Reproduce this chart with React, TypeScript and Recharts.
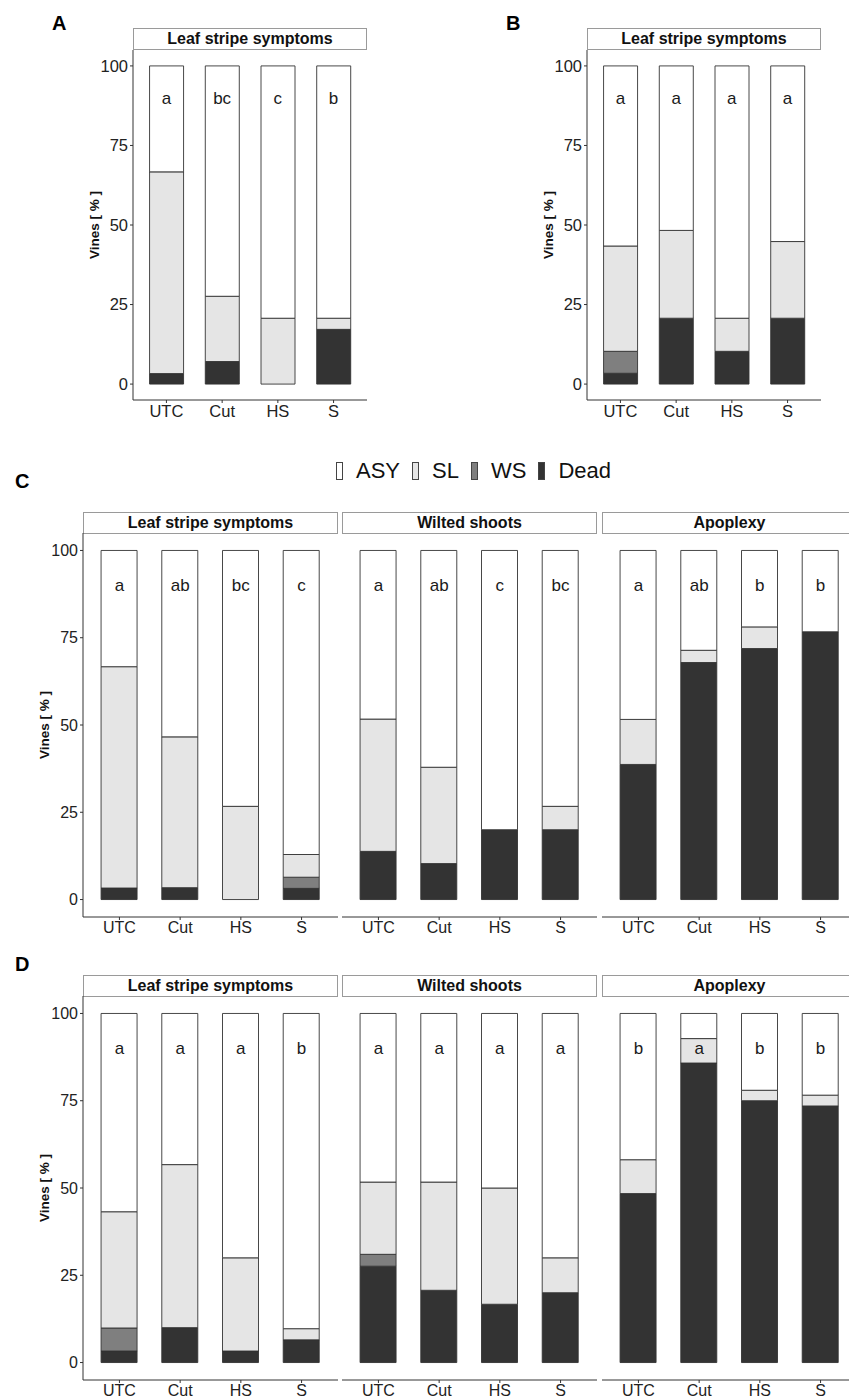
import { Bar, ComposedChart, ReferenceDot, XAxis, YAxis } from "recharts";

const FONT = '"Liberation Sans", Arial, sans-serif';

const treatments = ["UTC", "Cut", "HS", "S"];
const yTicks = [0, 25, 50, 75, 100];

// share of vines per symptom class (%), stacked Dead -> WS -> SL -> ASY
// A – leaf stripe symptoms
const aDead = [3.3, 7.1, 0, 17.2];
const aWs = [0, 0, 0, 0];
const aSl = [63.4, 20.5, 20.7, 3.5];
const aAsy = [33.3, 72.4, 79.3, 79.3];
const aLetters = ["a", "bc", "c", "b"];

// B – leaf stripe symptoms
const bDead = [3.4, 20.7, 10.3, 20.7];
const bWs = [6.9, 0, 0, 0];
const bSl = [33.1, 27.6, 10.4, 24.1];
const bAsy = [56.6, 51.7, 79.3, 55.2];
const bLetters = ["a", "a", "a", "a"];

// C – leaf stripe symptoms / wilted shoots / apoplexy
const cLeafDead = [3.3, 3.4, 0, 3.2];
const cLeafWs = [0, 0, 0, 3.2];
const cLeafSl = [63.4, 43.2, 26.7, 6.5];
const cLeafAsy = [33.3, 53.4, 73.3, 87.1];
const cLeafLetters = ["a", "ab", "bc", "c"];

const cWiltDead = [13.8, 10.3, 20, 20];
const cWiltWs = [0, 0, 0, 0];
const cWiltSl = [37.9, 27.6, 0, 6.7];
const cWiltAsy = [48.3, 62.1, 80, 73.3];
const cWiltLetters = ["a", "ab", "c", "bc"];

const cApoDead = [38.7, 67.9, 71.9, 76.7];
const cApoWs = [0, 0, 0, 0];
const cApoSl = [12.9, 3.5, 6.2, 0];
const cApoAsy = [48.4, 28.6, 21.9, 23.3];
const cApoLetters = ["a", "ab", "b", "b"];

// D – leaf stripe symptoms / wilted shoots / apoplexy
const dLeafDead = [3.3, 10, 3.3, 6.5];
const dLeafWs = [6.6, 0, 0, 0];
const dLeafSl = [33.3, 46.7, 26.7, 3.2];
const dLeafAsy = [56.8, 43.3, 70, 90.3];
const dLeafLetters = ["a", "a", "a", "b"];

const dWiltDead = [27.6, 20.7, 16.7, 20];
const dWiltWs = [3.4, 0, 0, 0];
const dWiltSl = [20.7, 31.0, 33.3, 10];
const dWiltAsy = [48.3, 48.3, 50, 70];
const dWiltLetters = ["a", "a", "a", "a"];

const dApoDead = [48.4, 85.8, 75, 73.5];
const dApoWs = [0, 0, 0, 0];
const dApoSl = [9.7, 7.0, 3.0, 3.1];
const dApoAsy = [41.9, 7.2, 22, 23.4];
const dApoLetters = ["b", "a", "b", "b"];

const classes = [
  { key: "Dead", color: "#333333" },
  { key: "WS", color: "#7f7f7f" },
  { key: "SL", color: "#e5e5e5" },
  { key: "ASY", color: "#ffffff" },
];
const legendOrder = ["ASY", "SL", "WS", "Dead"];

function rows(dead: number[], ws: number[], sl: number[], asy: number[]) {
  return treatments.map((t, i) => ({ treatment: t, Dead: dead[i], WS: ws[i], SL: sl[i], ASY: asy[i] }));
}

interface FacetProps {
  data: any[];
  letters: string[];
  title: string;
  plotLeft: number;
  plotTop: number;
  plotWidth: number;
  plotHeight: number;
  stripTop: number;
  stripHeight: number;
  yWidth?: number; // 0 = no y axis
  yLabelOffset?: number;
  tickFont: number;
  barSize: number;
}

function Facet(p: FacetProps) {
  const yWidth = p.yWidth || 0;
  const band = p.plotWidth / 4.2;
  const pad = band * 0.1;
  const xHeight = 30;
  return (
    <>
      <div
        style={{
          position: "absolute",
          left: p.plotLeft,
          top: p.stripTop,
          width: p.plotWidth - 2,
          height: p.stripHeight - 2,
          border: "1px solid #9a9a9a",
          background: "#fff",
          display: "flex",
          alignItems: "center",
          justifyContent: "center",
          fontFamily: FONT,
          fontWeight: "bold",
          fontSize: 16,
          color: "#111",
        }}
      >
        {p.title}
      </div>
      <div style={{ position: "absolute", left: p.plotLeft - yWidth, top: p.plotTop }}>
        <ComposedChart
          width={yWidth + p.plotWidth}
          height={p.plotHeight + xHeight}
          data={p.data}
          margin={{ top: 0, right: 0, bottom: 0, left: 0 }}
          style={{ fontFamily: FONT }}
        >
          <XAxis
            dataKey="treatment"
            type="category"
            height={xHeight}
            padding={{ left: pad, right: pad }}
            stroke="#333"
            tickSize={3}
            tickMargin={2}
            tick={{ fill: "#222", fontSize: p.tickFont }}
          />
          <YAxis
            type="number"
            domain={[-5, 105]}
            ticks={yTicks}
            hide={yWidth === 0}
            width={yWidth}
            stroke="#333"
            tickSize={3}
            tickMargin={2}
            tick={{ fill: "#222", fontSize: p.tickFont }}
            label={{
              value: "Vines [ % ]",
              angle: -90,
              position: "insideLeft",
              offset: p.yLabelOffset || 0,
              style: { textAnchor: "middle", fontWeight: "bold", fontSize: 13.5, fill: "#111" },
            }}
          />
          {classes.map((c) => (
            <Bar
              key={c.key}
              dataKey={c.key}
              stackId="s"
              fill={c.color}
              stroke="#333"
              strokeWidth={0.9}
              barSize={p.barSize}
              isAnimationActive={false}
            />
          ))}
          {treatments.map((t, i) => (
            <ReferenceDot
              key={t}
              x={t}
              y={90}
              r={0}
              fill="none"
              stroke="none"
              label={{ value: p.letters[i], position: "center", fill: "#1a1a1a", fontSize: 17 }}
            />
          ))}
        </ComposedChart>
      </div>
    </>
  );
}

function PanelTag({ text, left, top }: { text: string; left: number; top: number }) {
  return (
    <div
      style={{
        position: "absolute",
        left,
        top,
        fontFamily: FONT,
        fontWeight: "bold",
        fontSize: 20,
        lineHeight: "20px",
        color: "#000",
      }}
    >
      {text}
    </div>
  );
}

function SymptomLegend() {
  const colorOf: Record<string, string> = {};
  classes.forEach((c) => (colorOf[c.key] = c.color));
  return (
    <div
      style={{
        position: "absolute",
        left: 336,
        top: 458,
        height: 26,
        display: "flex",
        alignItems: "center",
        fontFamily: FONT,
        fontSize: 22,
        color: "#111",
      }}
    >
      {legendOrder.map((k, i) => (
        <div key={k} style={{ display: "flex", alignItems: "center", marginLeft: i === 0 ? 0 : 12 }}>
          <span
            style={{
              display: "inline-block",
              width: 5,
              height: 16,
              background: colorOf[k],
              border: "1px solid #444",
              marginRight: 13,
            }}
          />
          <span>{k}</span>
        </div>
      ))}
    </div>
  );
}

export default function App() {
  const small = { plotWidth: 234, plotHeight: 350, stripHeight: 22, tickFont: 16.5, barSize: 34 };
  const wide = { plotWidth: 255, plotHeight: 384, stripHeight: 22, tickFont: 16, barSize: 36 };
  const facetLefts = [83, 342, 602];
  const titles = ["Leaf stripe symptoms", "Wilted shoots", "Apoplexy"];

  const cData = [
    { data: rows(cLeafDead, cLeafWs, cLeafSl, cLeafAsy), letters: cLeafLetters },
    { data: rows(cWiltDead, cWiltWs, cWiltSl, cWiltAsy), letters: cWiltLetters },
    { data: rows(cApoDead, cApoWs, cApoSl, cApoAsy), letters: cApoLetters },
  ];
  const dData = [
    { data: rows(dLeafDead, dLeafWs, dLeafSl, dLeafAsy), letters: dLeafLetters },
    { data: rows(dWiltDead, dWiltWs, dWiltSl, dWiltAsy), letters: dWiltLetters },
    { data: rows(dApoDead, dApoWs, dApoSl, dApoAsy), letters: dApoLetters },
  ];

  return (
    <div
      style={{
        position: "absolute",
        left: 0,
        top: 0,
        width: 849,
        height: 1399,
        overflow: "hidden",
        background: "#fff",
      }}
    >
      <PanelTag text="A" left={52} top={13} />
      <Facet
        {...small}
        data={rows(aDead, aWs, aSl, aAsy)}
        letters={aLetters}
        title="Leaf stripe symptoms"
        plotLeft={133}
        plotTop={50}
        stripTop={28}
        yWidth={73}
        yLabelOffset={34}
      />

      <PanelTag text="B" left={506} top={13} />
      <Facet
        {...small}
        data={rows(bDead, bWs, bSl, bAsy)}
        letters={bLetters}
        title="Leaf stripe symptoms"
        plotLeft={587}
        plotTop={50}
        stripTop={28}
        yWidth={73}
        yLabelOffset={34}
      />

      <SymptomLegend />

      <PanelTag text="C" left={15} top={471} />
      {cData.map((f, i) => (
        <Facet
          key={"c" + i}
          {...wide}
          data={f.data}
          letters={f.letters}
          title={titles[i]}
          plotLeft={facetLefts[i]}
          plotTop={533}
          stripTop={512}
          yWidth={i === 0 ? 60 : 0}
          yLabelOffset={21}
        />
      ))}

      <PanelTag text="D" left={15} top={954} />
      {dData.map((f, i) => (
        <Facet
          key={"d" + i}
          {...wide}
          data={f.data}
          letters={f.letters}
          title={titles[i]}
          plotLeft={facetLefts[i]}
          plotTop={996}
          stripTop={975}
          yWidth={i === 0 ? 60 : 0}
          yLabelOffset={21}
        />
      ))}
    </div>
  );
}
